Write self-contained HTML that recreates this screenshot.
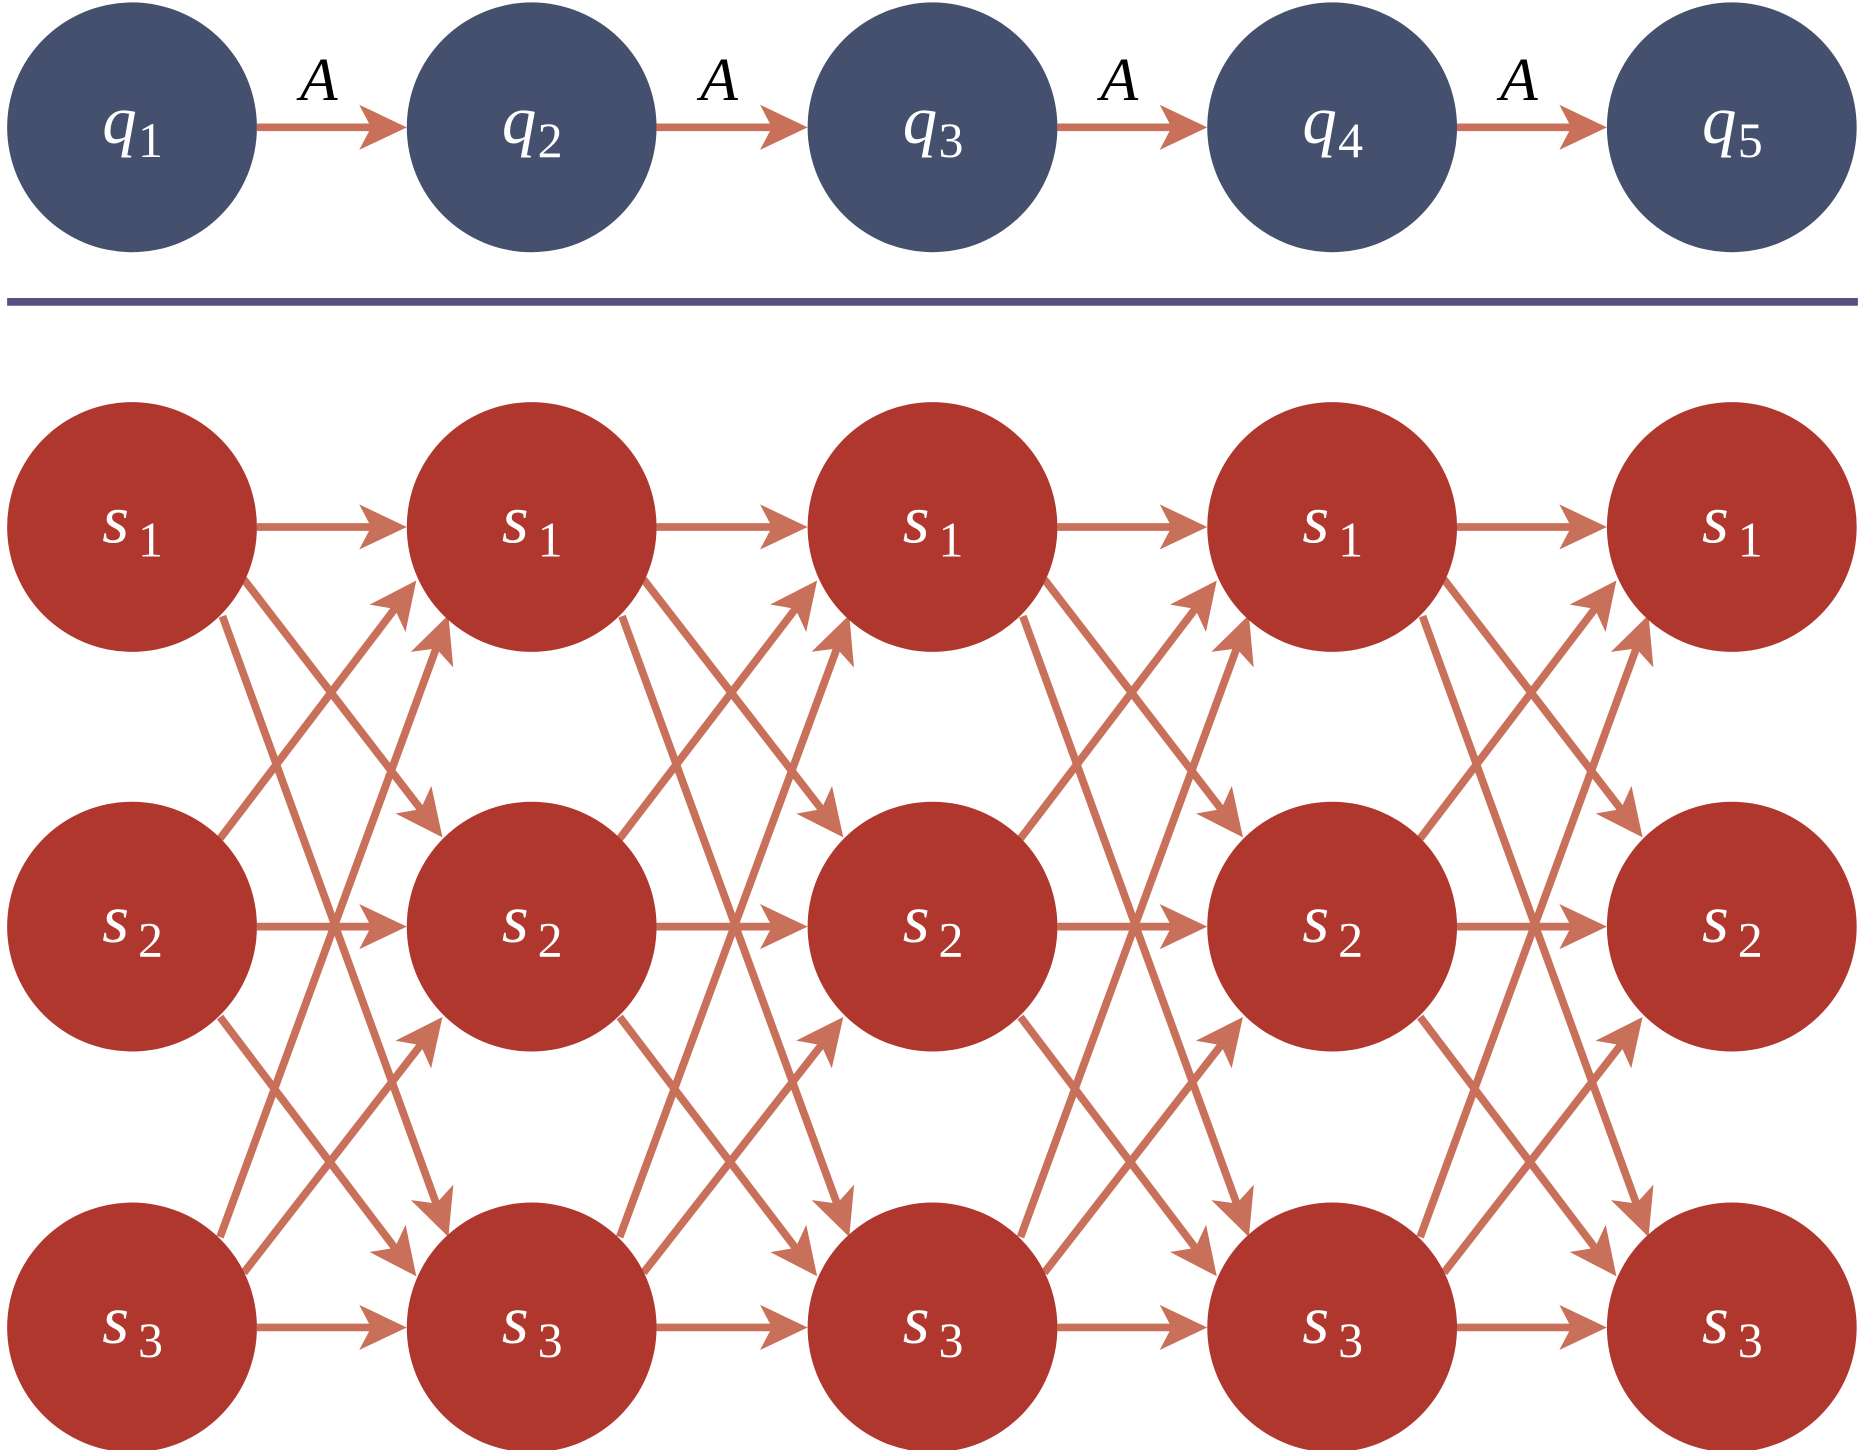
<!DOCTYPE html>
<html><head><meta charset="utf-8"><style>
html,body{margin:0;padding:0;background:#fff;}
svg{display:block;}
.lbl{font-family:"Liberation Serif",serif;font-style:italic;fill:#fff;}
.sub{font-family:"Liberation Serif",serif;font-style:normal;fill:#fff;}
</style></head><body>
<svg id="fig" width="1865" height="1450" viewBox="0 0 1568 1219" xmlns="http://www.w3.org/2000/svg">
<rect x="6" y="250.5" width="1556" height="6.5" fill="#574f7d"/>
<g id="arrows"></g>
<g id="nodes"></g>
</svg>
<script>
const colX = [111, 447, 784, 1120, 1456];
const topY = 107;
const rowY = [443, 779, 1116];
const R = 105;
const topLabels = ["1","2","3","4","5"];
const stateLabels = ["1","2","3"];
// edge endpoint offsets [fromRow, toRow, startDx, startDy, endDx, endDy]
const edges = [
 [0,0,105,0,-105,0],[1,1,105,0,-105,0],[2,2,105,0,-105,0],
 [0,1,94,44,-75,-75],[0,2,76,75,-70,-76],
 [1,0,74,-74,-97,45],[1,2,74,76,-97,-43],
 [2,0,74,-76,-70,74],[2,1,94,-46,-75,76]
];
const NS="http://www.w3.org/2000/svg";
const svg=document.getElementById('fig');
const ag=document.getElementById('arrows');
const ng=document.getElementById('nodes');
const AC="#c8705a";
function arrow(x1,y1,x2,y2,name){
  const g=document.createElementNS(NS,'g');
  
  
  const dx=x2-x1, dy=y2-y1, L=Math.hypot(dx,dy), ux=dx/L, uy=dy/L, px=-uy, py=ux;
  const ln=document.createElementNS(NS,'line');
  ln.setAttribute('x1',x1);ln.setAttribute('y1',y1);
  ln.setAttribute('x2',x2-ux*30);ln.setAttribute('y2',y2-uy*30);
  ln.setAttribute('stroke',AC);ln.setAttribute('stroke-width',6.5);
  g.appendChild(ln);
  const bx=x2-ux*40, by=y2-uy*40, nx=x2-ux*30, ny=y2-uy*30;
  const p=document.createElementNS(NS,'polygon');
  p.setAttribute('points',`${x2},${y2} ${bx+px*19},${by+py*19} ${nx},${ny} ${bx-px*19},${by-py*19}`);
  p.setAttribute('fill',AC);
  g.appendChild(p);
  ag.appendChild(g);
}
function node(cx,cy,fill,letter,sub,name){
  const g=document.createElementNS(NS,'g');
  
  
  const c=document.createElementNS(NS,'circle');
  c.setAttribute('cx',cx);c.setAttribute('cy',cy);c.setAttribute('r',R);c.setAttribute('fill',fill);
  g.appendChild(c);
  const t=document.createElementNS(NS,'text');
  t.setAttribute('x',cx-25);t.setAttribute('y',cy+13);
  t.setAttribute('class','lbl');t.setAttribute('font-size','58');
  t.textContent=letter;
  g.appendChild(t);
  const s=document.createElementNS(NS,'text');
  s.setAttribute('x',cx+5);s.setAttribute('y',cy+25);
  s.setAttribute('class','sub');s.setAttribute('font-size','42');
  s.textContent=sub;
  g.appendChild(s);
  ng.appendChild(g);
}
// top chain
for(let i=0;i<colX.length;i++){
  node(colX[i],topY,"#44506e","q",topLabels[i],"q-node-"+topLabels[i]);
  if(i<colX.length-1){
    arrow(colX[i]+R,topY,colX[i+1]-R,topY,"transition-arrow-q"+(i+1));
    const a=document.createElementNS(NS,'text');
    
    
    a.setAttribute('x',(colX[i]+colX[i+1])/2-11);a.setAttribute('y',84);
    a.setAttribute('text-anchor','middle');
    a.setAttribute('font-family','"Liberation Serif",serif');a.setAttribute('font-style','italic');
    a.setAttribute('font-size','52');a.setAttribute('fill','#000');
    a.textContent="A";
    svg.appendChild(a);
  }
}
// state lattice
for(let i=0;i<colX.length;i++){
  for(let r=0;r<rowY.length;r++){
    node(colX[i],rowY[r],"#af372d","s",stateLabels[r],"state-s"+stateLabels[r]+"-t"+(i+1));
  }
  if(i<colX.length-1){
    for(const e of edges){
      arrow(colX[i]+e[2],rowY[e[0]]+e[3],colX[i+1]+e[4],rowY[e[1]]+e[5],"edge-t"+(i+1)+"-s"+(e[0]+1)+"-s"+(e[1]+1));
    }
  }
}
</script>
</body></html>
